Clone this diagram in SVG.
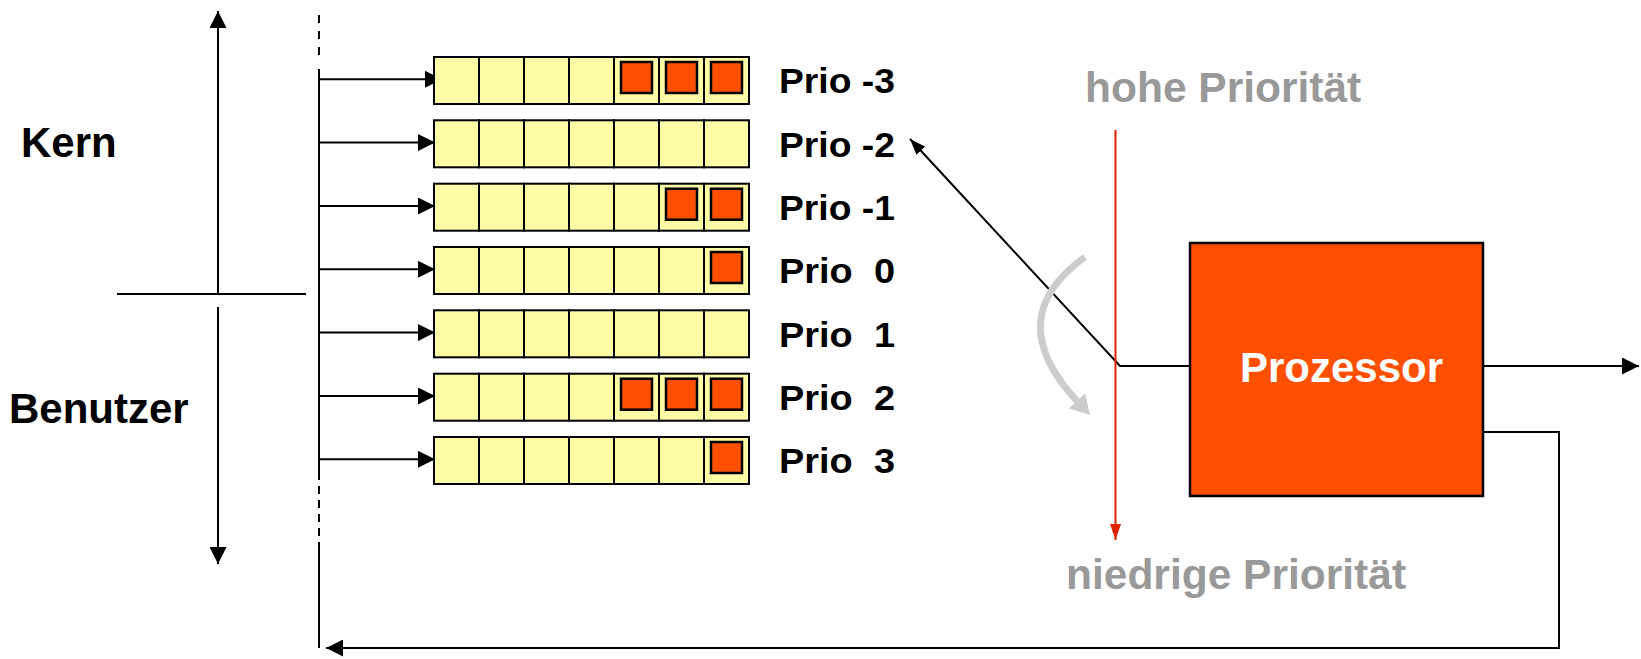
<svg xmlns="http://www.w3.org/2000/svg" width="1641" height="659" viewBox="0 0 1641 659">
<style>
.ln{stroke:#000;stroke-width:2;fill:none}
.cell{fill:#fffca8;stroke:#000;stroke-width:2}
.item{fill:#ff4f00;stroke:#000;stroke-width:2.5}
.lbl{font-family:"Liberation Sans",Arial,sans-serif;font-weight:bold;fill:#000}
.prio{font-family:"Liberation Sans",Arial,sans-serif;font-weight:bold;font-size:34.5px;fill:#000}
.gray{font-family:"Liberation Sans",Arial,sans-serif;font-weight:bold;font-size:42.5px;fill:#999}
</style>
<defs>
<marker id="ah" viewBox="0 0 17 17" refX="17" refY="8.5" markerWidth="17" markerHeight="17" markerUnits="userSpaceOnUse" orient="auto">
<path d="M0,0 L17,8.5 L0,17 z" fill="#000"/>
</marker>
<marker id="ahs" viewBox="0 0 16 12" refX="16" refY="6" markerWidth="16" markerHeight="12" markerUnits="userSpaceOnUse" orient="auto">
<path d="M0,0 L16,6 L0,12 z" fill="#000"/>
</marker>
<marker id="ahr" viewBox="0 0 16 11" refX="16" refY="5.5" markerWidth="16" markerHeight="11" markerUnits="userSpaceOnUse" orient="auto">
<path d="M0,0 L16,5.5 L0,11 z" fill="#dd2200"/>
</marker>
<g id="q">
<rect class="cell" x="0" y="0" width="45" height="47"/>
<rect class="cell" x="45" y="0" width="45" height="47"/>
<rect class="cell" x="90" y="0" width="45" height="47"/>
<rect class="cell" x="135" y="0" width="45" height="47"/>
<rect class="cell" x="180" y="0" width="45" height="47"/>
<rect class="cell" x="225" y="0" width="45" height="47"/>
<rect class="cell" x="270" y="0" width="45" height="47"/>
</g>
</defs>

<g id="side">
<line class="ln" x1="117" y1="294" x2="306" y2="294"/>
<line class="ln" x1="218" y1="294" x2="218" y2="11" marker-end="url(#ah)" stroke-width="2.5"/>
<line class="ln" x1="218" y1="307" x2="218" y2="564" marker-end="url(#ah)" stroke-width="2.5"/>
<text class="lbl" x="21" y="157" font-size="42">Kern</text>
<text class="lbl" x="9" y="423" font-size="42">Benutzer</text>
</g>

<g id="connectors">
<line class="ln" x1="319" y1="15" x2="319" y2="62" stroke-dasharray="8 8" stroke-width="2.5"/>
<line class="ln" x1="319" y1="69" x2="319" y2="472" stroke-width="2.5"/>
<line class="ln" x1="319" y1="472" x2="319" y2="548" stroke-dasharray="8 6" stroke-width="2"/>
<line class="ln" x1="319" y1="548" x2="319" y2="648" stroke-width="2"/>
<line class="ln" x1="319" y1="79.3" x2="442" y2="79.3" marker-end="url(#ah)"/>
<line class="ln" x1="319" y1="142.6" x2="435" y2="142.6" marker-end="url(#ah)"/>
<line class="ln" x1="319" y1="206" x2="435" y2="206" marker-end="url(#ah)"/>
<line class="ln" x1="319" y1="269.3" x2="435" y2="269.3" marker-end="url(#ah)"/>
<line class="ln" x1="319" y1="332.6" x2="435" y2="332.6" marker-end="url(#ah)"/>
<line class="ln" x1="319" y1="396" x2="435" y2="396" marker-end="url(#ah)"/>
<line class="ln" x1="319" y1="459.3" x2="435" y2="459.3" marker-end="url(#ah)"/>
<polyline class="ln" points="1190,366 1120,366 910,139" marker-end="url(#ahs)"/>
<line class="ln" x1="1483" y1="366" x2="1639" y2="366" marker-end="url(#ah)"/>
<polyline class="ln" points="1483,432 1559,432 1559,648 326,648" marker-end="url(#ah)"/>
<line x1="1115.5" y1="130" x2="1115.5" y2="540" stroke="#dd2200" stroke-width="2" marker-end="url(#ahr)"/>
<path d="M1085,257 Q1000,318 1077,401" fill="none" stroke="#cccccc" stroke-width="7"/>
<polygon points="1090,415 1068.9,408.5 1085.1,393.5" fill="#cccccc"/>
</g>

<g id="queue-m3">
<use href="#q" x="434" y="57"/>
<rect class="item" x="621" y="62" width="31" height="31"/>
<rect class="item" x="666" y="62" width="31" height="31"/>
<rect class="item" x="711" y="62" width="31" height="31"/>
<text class="prio" x="779" y="93.3" textLength="116" lengthAdjust="spacingAndGlyphs">Prio -3</text>
</g>
<g id="queue-m2">
<use href="#q" x="434" y="120.3"/>
<text class="prio" x="779" y="156.6" textLength="116" lengthAdjust="spacingAndGlyphs">Prio -2</text>
</g>
<g id="queue-m1">
<use href="#q" x="434" y="183.7"/>
<rect class="item" x="666" y="188.7" width="31" height="31"/>
<rect class="item" x="711" y="188.7" width="31" height="31"/>
<text class="prio" x="779" y="220" textLength="116" lengthAdjust="spacingAndGlyphs">Prio -1</text>
</g>
<g id="queue-0">
<use href="#q" x="434" y="247"/>
<rect class="item" x="711" y="252" width="31" height="31"/>
<text class="prio" x="779" y="283.3" textLength="116" lengthAdjust="spacingAndGlyphs" xml:space="preserve">Prio  0</text>
</g>
<g id="queue-1">
<use href="#q" x="434" y="310.3"/>
<text class="prio" x="779" y="346.6" textLength="116" lengthAdjust="spacingAndGlyphs" xml:space="preserve">Prio  1</text>
</g>
<g id="queue-2">
<use href="#q" x="434" y="373.7"/>
<rect class="item" x="621" y="378.7" width="31" height="31"/>
<rect class="item" x="666" y="378.7" width="31" height="31"/>
<rect class="item" x="711" y="378.7" width="31" height="31"/>
<text class="prio" x="779" y="410" textLength="116" lengthAdjust="spacingAndGlyphs" xml:space="preserve">Prio  2</text>
</g>
<g id="queue-3">
<use href="#q" x="434" y="437"/>
<rect class="item" x="711" y="442" width="31" height="31"/>
<text class="prio" x="779" y="473.3" textLength="116" lengthAdjust="spacingAndGlyphs" xml:space="preserve">Prio  3</text>
</g>

<g id="prozessor">
<rect x="1190" y="243" width="293" height="253" fill="#ff4f00" stroke="#000" stroke-width="2.5"/>
<text class="lbl" x="1341.5" y="382" font-size="42" text-anchor="middle" style="fill:#fff">Prozessor</text>
</g>

<g id="priority-labels">
<text class="gray" x="1085" y="101.7">hohe Priorität</text>
<text class="gray" x="1066" y="589">niedrige Priorität</text>
</g>
</svg>
